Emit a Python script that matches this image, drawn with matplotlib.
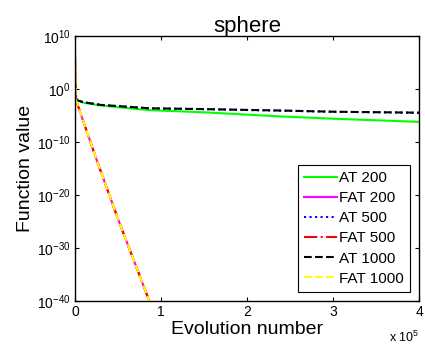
import numpy as np
import matplotlib
matplotlib.use("Agg")
import matplotlib.pyplot as plt
from matplotlib.ticker import FuncFormatter, NullLocator

plt.rcParams['font.family'] = ['Liberation Sans', 'DejaVu Sans']
plt.rcParams['mathtext.fontset'] = 'custom'
plt.rcParams['mathtext.rm'] = 'Liberation Sans'

# Evolution number (function evaluations)
at_x = [0, 0.02e5, 0.1e5, 0.3e5, 0.87e5, 1.5e5, 2.42e5, 3.0e5, 4.0e5]
fat_x = [0, 0.01e5, 0.25e5, 0.5e5, 0.9e5]

# Function values
at200 = [1.6, 7.9e-3, 2.5e-3, 7.9e-4, 1e-4, 4e-5, 6.3e-6, 2.5e-6, 6.3e-7]
at500 = [1.6, 7.9e-3, 3.2e-3, 1e-3, 2.2e-4, 1.6e-4, 7.9e-5, 5e-5, 3.2e-5]
at1000 = [1.6, 7.9e-3, 3.2e-3, 1e-3, 2.3e-4, 1.6e-4, 8.5e-5, 5.2e-5, 3.4e-5]
fat200 = [3e6, 1e-2, 5e-14, 3e-25, 3e-42]
fat500 = [3e6, 1e-2, 5e-14, 3e-25, 3e-42]
fat1000 = [3e6, 1e-2, 5e-14, 3e-25, 3e-42]

labels = ["AT 200", "FAT 200", "AT 500", "FAT 500", "AT 1000", "FAT 1000"]

fig = plt.figure(figsize=(4.25, 3.49), dpi=100)
ax = fig.add_axes([75 / 425, 1 - 301 / 349, 344 / 425, 265 / 349])

ax.plot(at_x, at200, color=(0, 1, 0), lw=1.5, label=labels[0])
ax.plot(fat_x, fat200, color=(1, 0, 1), lw=1.5, label=labels[1])
ax.plot(at_x, at500, color=(0, 0, 1), lw=1.5, ls=':', label=labels[2])
ax.plot(fat_x, fat500, color=(1, 0, 0), lw=1.5, ls='-.', label=labels[3])
ax.plot(at_x, at1000, color='black', lw=1.5, ls='--', label=labels[4])
ax.plot(fat_x, fat1000, color=(1, 1, 0), lw=1.5, ls='--', label=labels[5])

ax.set_yscale('log')
ax.set_ylim(1e-40, 1e10)
ax.set_xlim(0, 4e5)
ax.set_yticks([10.0 ** k for k in range(-40, 11, 10)])
ax.yaxis.set_minor_locator(NullLocator())
ax.set_xticks([0, 1e5, 2e5, 3e5, 4e5])
ax.xaxis.set_major_formatter(FuncFormatter(lambda v, p: "%d" % round(v / 1e5)))

ax.tick_params(direction='in', top=True, right=True, length=3, width=0.8,
               labelsize=10, pad=3)
for s in ax.spines.values():
    s.set_linewidth(1.0)

ax.set_title("sphere", fontsize=16, pad=3)
ax.set_xlabel("Evolution number", fontsize=14, labelpad=1)
ax.set_ylabel("Function value", fontsize=14, labelpad=2)

fig.text(419 / 425, 1 - 337 / 349, r"x 10$^5$", fontsize=9, ha='right', va='center')

leg = ax.legend(loc='lower right', fontsize=11, frameon=True, fancybox=False,
                framealpha=1, edgecolor='black', handlelength=2.15,
                handletextpad=0.15, labelspacing=0.4, borderpad=0.4,
                borderaxespad=0.6)
leg.get_frame().set_linewidth(0.8)

fig.savefig("out.png", dpi=100)
